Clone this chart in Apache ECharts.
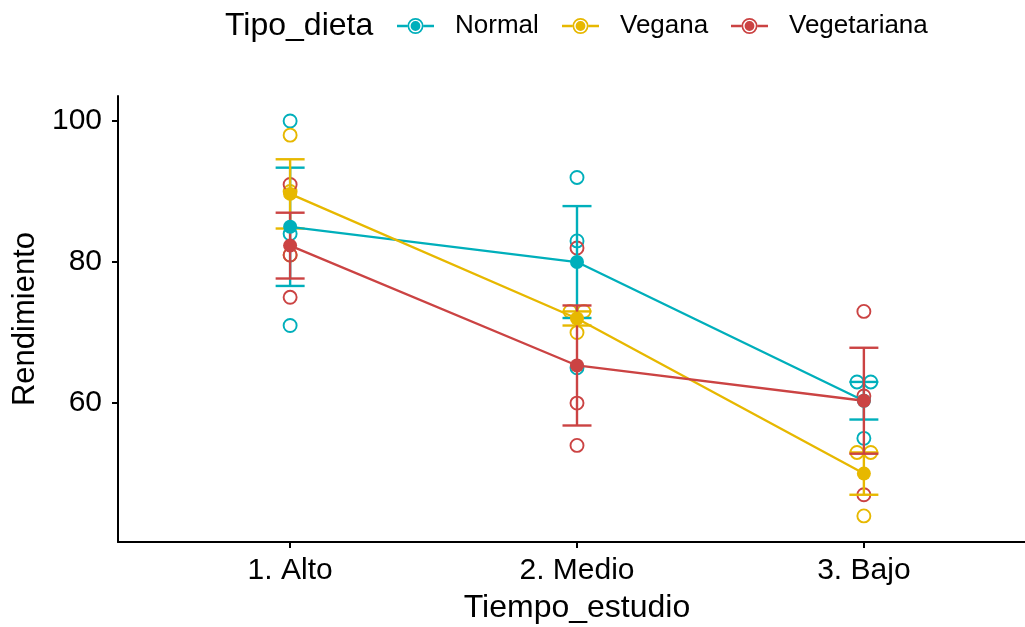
<!DOCTYPE html>
<html>
<head>
<meta charset="utf-8">
<script src="https://cdn.jsdelivr.net/npm/echarts@6/dist/echarts.min.js"></script>
<style>
  html, body { margin: 0; padding: 0; background: #ffffff; }
  #chart { width: 1025px; height: 627px; }
</style>
</head>
<body>
<div id="chart"></div>
<script>
// Study-time groups on the x axis
const categories = ['1. Alto', '2. Medio', '3. Bajo'];
// Diet groups (legend order)
const dietas = ['Normal', 'Vegana', 'Vegetariana'];
const colores = ['#00AFBB', '#E7B800', '#CB4343'];
// Individual scores, one inner array per study-time group
const normal      = [[100, 84, 71], [92, 83, 65], [63, 63, 55]];
const vegana      = [[98, 90, 81],  [73, 73, 70], [53, 53, 44]];
const vegetariana = [[91, 81, 75],  [82, 60, 54], [73, 61, 47]];
const yTicks = [60, 80, 100];
const xTicks = [1, 2, 3];

const grupos = [normal, vegana, vegetariana];
const FONT = '"Liberation Sans", Arial, Helvetica, sans-serif';

function mean(a) { return a.reduce((s, v) => s + v, 0) / a.length; }
function se(a) {
  const m = mean(a);
  const v = a.reduce((s, x) => s + (x - m) * (x - m), 0) / (a.length - 1);
  return Math.sqrt(v / a.length);
}

// Points sharing the same value are spread sideways so they stay visible
const DODGE = 0.024;
function puntos(grupo) {
  const out = [];
  grupo.forEach((vals, ci) => {
    const cuenta = {};
    vals.forEach(v => { cuenta[v] = (cuenta[v] || 0) + 1; });
    const visto = {};
    vals.forEach(v => {
      const n = cuenta[v];
      const k = visto[v] || 0;
      visto[v] = k + 1;
      const off = n > 1 ? (k - (n - 1) / 2) * 2 * DODGE : 0;
      out.push([xTicks[ci] + off, v]);
    });
  });
  return out;
}

const series = [];
// Raw observations (hollow circles)
grupos.forEach((g, i) => {
  series.push({
    name: dietas[i] + '_obs',
    type: 'scatter',
    data: puntos(g),
    symbol: 'circle',
    symbolSize: 13,
    itemStyle: { color: 'rgba(0,0,0,0)', borderColor: colores[i], borderWidth: 1.9, opacity: 1 },
    z: 2,
    silent: true
  });
});
// Mean ± standard error bars
grupos.forEach((g, i) => {
  const color = colores[i];
  series.push({
    name: dietas[i] + '_se',
    type: 'custom',
    data: g.map((vals, ci) => {
      const m = mean(vals), e = se(vals);
      return [xTicks[ci], m - e, m + e];
    }),
    encode: { x: 0, y: [1, 2] },
    z: 3,
    silent: true,
    renderItem: function (params, api) {
      const x = api.value(0);
      const lo = api.coord([x, api.value(1)]);
      const hi = api.coord([x, api.value(2)]);
      const w = 14.5;
      const st = { stroke: color, lineWidth: 2.4 };
      return {
        type: 'group',
        children: [
          { type: 'line', shape: { x1: lo[0], y1: lo[1], x2: hi[0], y2: hi[1] }, style: st },
          { type: 'line', shape: { x1: hi[0] - w, y1: hi[1], x2: hi[0] + w, y2: hi[1] }, style: st },
          { type: 'line', shape: { x1: lo[0] - w, y1: lo[1], x2: lo[0] + w, y2: lo[1] }, style: st }
        ]
      };
    }
  });
});
// Group means joined by lines
grupos.forEach((g, i) => {
  series.push({
    name: dietas[i],
    type: 'line',
    data: g.map((vals, ci) => [xTicks[ci], mean(vals)]),
    symbol: 'circle',
    symbolSize: 14,
    showSymbol: true,
    lineStyle: { color: colores[i], width: 2.3 },
    itemStyle: { color: colores[i], borderWidth: 0 },
    z: 4,
    silent: true
  });
});

// Legend key: line segment with an outlined, filled circle in the middle
const KEY_ICON = 'path://' +
  'M0,6.8H10.5V9.2H0Z' +
  'M26.5,6.8H37V9.2H26.5Z' +
  'M10.5,8A8,8 0 1,1 26.5,8A8,8 0 1,1 10.5,8Z' +
  'M12.2,8A6.3,6.3 0 1,0 24.8,8A6.3,6.3 0 1,0 12.2,8Z' +
  'M13.6,8A4.9,4.9 0 1,1 23.4,8A4.9,4.9 0 1,1 13.6,8Z';

const legendLeft = [392, 557, 726];
const legends = dietas.map((d, i) => ({
  data: [{ name: d, icon: KEY_ICON }],
  left: legendLeft[i],
  top: 8,
  itemWidth: 37,
  itemHeight: 16,
  itemGap: 0,
  selectedMode: false,
  textStyle: { fontSize: 26, color: '#000', fontFamily: FONT, padding: [0, 0, 0, 16] }
}));

const chart = echarts.init(document.getElementById('chart'), null, { renderer: 'canvas' });
chart.setOption({
  animation: false,
  backgroundColor: '#ffffff',
  textStyle: { fontFamily: FONT },
  legend: legends,
  graphic: [{
    type: 'text',
    left: 225,
    top: 10,
    style: { text: 'Tipo_dieta', fontSize: 32, fill: '#000', font: '32px ' + FONT }
  }],
  grid: { left: 118, top: 96, right: -11, bottom: 85, containLabel: false, outerBoundsMode: 'none' },
  xAxis: {
    type: 'value',
    min: 0.4,
    max: 3.6,
    name: 'Tiempo_estudio',
    nameLocation: 'middle',
    nameGap: 50,
    nameTextStyle: { fontSize: 32, color: '#000', fontFamily: FONT },
    splitLine: { show: false },
    axisLine: { show: true, onZero: false, lineStyle: { color: '#000', width: 2 } },
    axisTick: { show: true, customValues: xTicks, length: 6, lineStyle: { color: '#000', width: 2 } },
    axisLabel: {
      customValues: xTicks,
      formatter: v => categories[Math.round(v) - 1],
      fontSize: 30, color: '#000', fontFamily: FONT, margin: 14
    }
  },
  yAxis: {
    type: 'value',
    min: 40.3,
    max: 103.55,
    name: 'Rendimiento',
    nameLocation: 'middle',
    nameGap: 69,
    nameTextStyle: { fontSize: 31, color: '#000', fontFamily: FONT },
    splitLine: { show: false },
    axisLine: { show: true, onZero: false, lineStyle: { color: '#000', width: 2 } },
    axisTick: { show: true, customValues: yTicks, length: 6, lineStyle: { color: '#000', width: 2 } },
    axisLabel: { customValues: yTicks, fontSize: 30, color: '#000', fontFamily: FONT, margin: 16 }
  },
  series: series
});
</script>
</body>
</html>
